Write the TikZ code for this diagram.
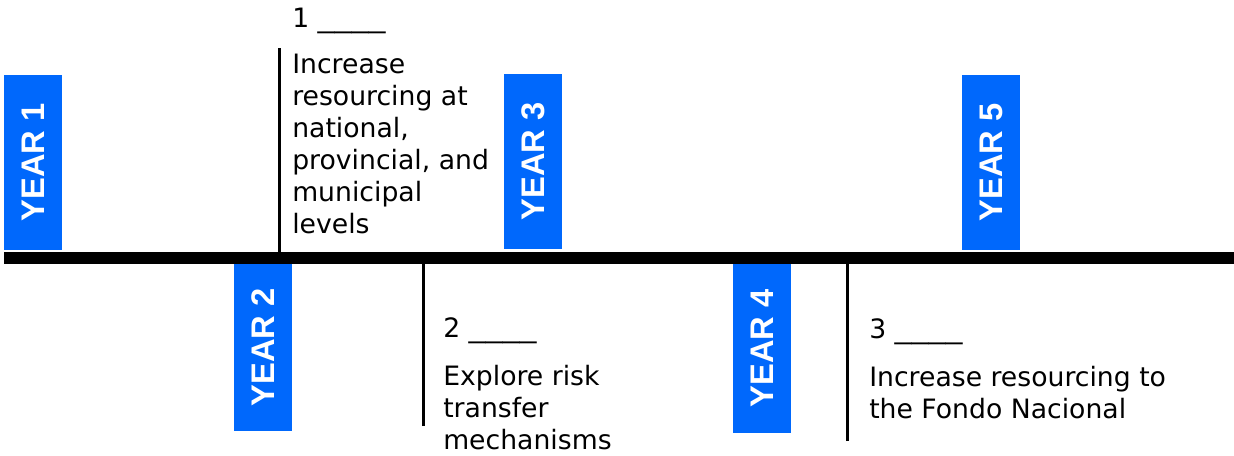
\documentclass[tikz,border=0pt]{standalone}
\usepackage{fontspec}
\setmainfont{DejaVu Sans}
\newfontfamily\yearfont{Liberation Sans}
\newcommand{\blank}{\scalebox{1.27}[1]{\_\_\_\_}}

\begin{document}
\begin{tikzpicture}[x=0.75pt, y=-0.75pt,
    yearbox/.style={fill=YearBlue, text=white, rotate=90, inner sep=0pt,
        minimum height=43.5pt, font=\yearfont\bfseries\fontsize{24.5}{24}\selectfont},
    milestone/.style={anchor=base west, align=left, inner sep=0pt,
        font=\fontsize{20}{24}\selectfont},
    tick/.style={line width=2.25pt}]

\definecolor{YearBlue}{RGB}{0,104,252}

\useasboundingbox (0,0) rectangle (1234,455);

% ── Barra do tempo ───────────────────────────────────────────
\coordinate (start) at (4,258);
\coordinate (end)   at (1234,258);
\draw[line width=9pt] (start) -- (end);

% ── Anos acima e abaixo da barra ────────────────────────────
\node[yearbox, minimum width=131.25pt] (year1) at (33,162.5)  {YEAR 1};
\node[yearbox, minimum width=125.25pt] (year2) at (263,347.5) {YEAR 2};
\node[yearbox, minimum width=131.25pt] (year3) at (533,161.5) {YEAR 3};
\node[yearbox, minimum width=126.75pt] (year4) at (762,348.5) {YEAR 4};
\node[yearbox, minimum width=131.25pt] (year5) at (991,162.5) {YEAR 5};

% ── Marcos verticais ────────────────────────────────────────
\coordinate (tick1) at (279,48);
\coordinate (tick2) at (423.5,426);
\coordinate (tick3) at (847,441);
\draw[tick] (tick1) -- (tick1 |- start);
\draw[tick] (tick2) -- (tick2 |- start);
\draw[tick] (tick3) -- (tick3 |- start);

% ── Metas (ancoradas na linha de base da última linha) ──────
\node[milestone] (num1)  at (292,27)  {1 \blank};
\node[milestone] (goal1) at (292,233)
    {Increase\\resourcing at\\national,\\provincial, and\\municipal\\levels};

\node[milestone] (num2)  at (443,337) {2 \blank};
\node[milestone] (goal2) at (443,449) {Explore risk\\transfer\\mechanisms};

\node[milestone] (num3)  at (869,338) {3 \blank};
\node[milestone] (goal3) at (869,418) {Increase resourcing to\\the Fondo Nacional};

\end{tikzpicture}
\end{document}
